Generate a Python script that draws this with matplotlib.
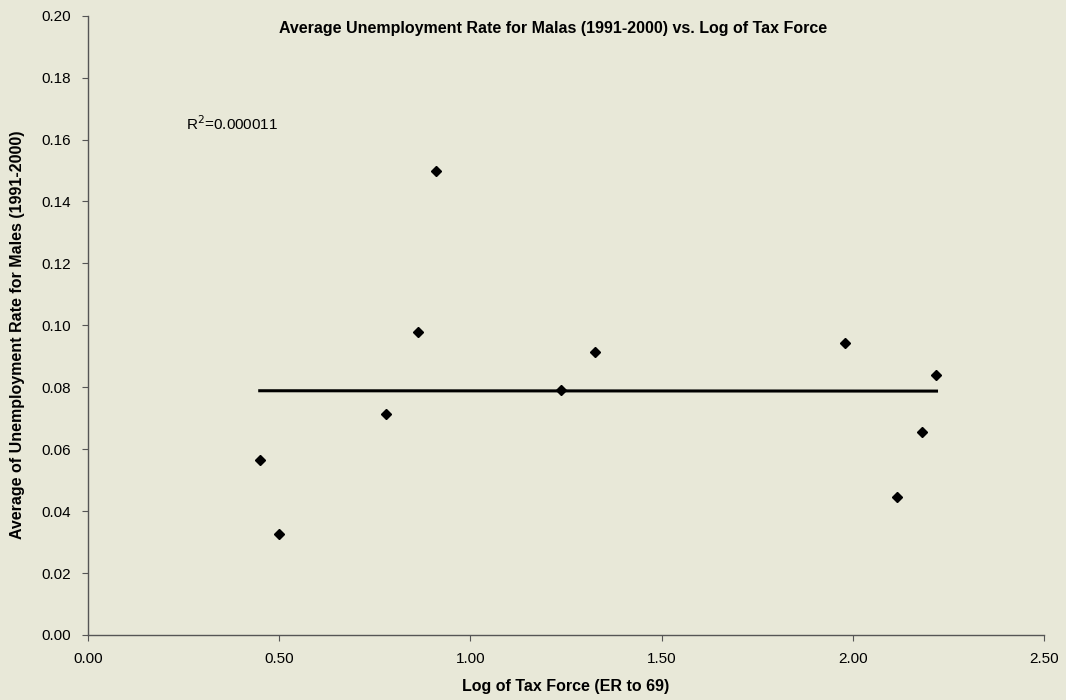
import numpy as np
import matplotlib
matplotlib.use("Agg")
import matplotlib.pyplot as plt

# log of tax force vs. average male unemployment rate, 1991-2000
log_tax_force = [0.449, 0.499, 0.778, 0.862, 0.911, 1.238, 1.326, 1.979, 2.117, 2.180, 2.219]
unemp_males = [0.0565, 0.0326, 0.0714, 0.0978, 0.150, 0.0790, 0.0914, 0.0943, 0.0446, 0.0655, 0.0839]
r2_label = "R$^2$=0.000011"

x_ticks = [0.0, 0.5, 1.0, 1.5, 2.0, 2.5]
y_ticks = [0.00, 0.02, 0.04, 0.06, 0.08, 0.10, 0.12, 0.14, 0.16, 0.18, 0.20]

plt.rcParams['font.family'] = ['Liberation Sans', 'DejaVu Sans']
bg = '#e8e8d8'

fig = plt.figure(figsize=(10.66, 7.0), dpi=100, facecolor=bg)
ax = fig.add_axes([0.0826, 0.0929, 0.8967, 0.8847], facecolor=bg)

ax.plot(log_tax_force, unemp_males, 'D', color='black', markersize=5.5, zorder=3)

# linear trend over the data range
x = np.array(log_tax_force)
slope, icpt = np.polyfit(x, unemp_males, 1)
xs = np.array([x.min(), x.max()])
ax.plot(xs, slope * xs + icpt, color='black', linewidth=2.2, zorder=2)

ax.text(0.255, 0.165, r2_label, fontsize=11, va='center', ha='left')

ax.set_xlim(0, 2.5)
ax.set_ylim(0, 0.2)
ax.set_xticks(x_ticks)
ax.set_yticks(y_ticks)
ax.set_xticklabels([f"{t:.2f}" for t in x_ticks], fontsize=11)
ax.set_yticklabels([f"{t:.2f}" for t in y_ticks], fontsize=11)
ax.tick_params(direction='out', length=4, width=0.8, color='#555555', pad=8)

for s in ['top', 'right']:
    ax.spines[s].set_visible(False)
for s in ['left', 'bottom']:
    ax.spines[s].set_color('#555555')
    ax.spines[s].set_linewidth(1.0)

fig.text(553 / 1066, 1 - 28 / 700, "Average Unemployment Rate for Malas (1991-2000) vs. Log of Tax Force",
         ha='center', va='center', fontsize=11.5, fontweight='bold')
fig.text(566 / 1066, 1 - 686 / 700, "Log of Tax Force (ER to 69)",
         ha='center', va='center', fontsize=11.5, fontweight='bold')
fig.text(18 / 1066, 1 - 335 / 700, "Average of Unemployment Rate for Males (1991-2000)",
         ha='center', va='center', rotation=90, fontsize=11.5, fontweight='bold')

fig.savefig("out.png", dpi=100, facecolor=bg)
